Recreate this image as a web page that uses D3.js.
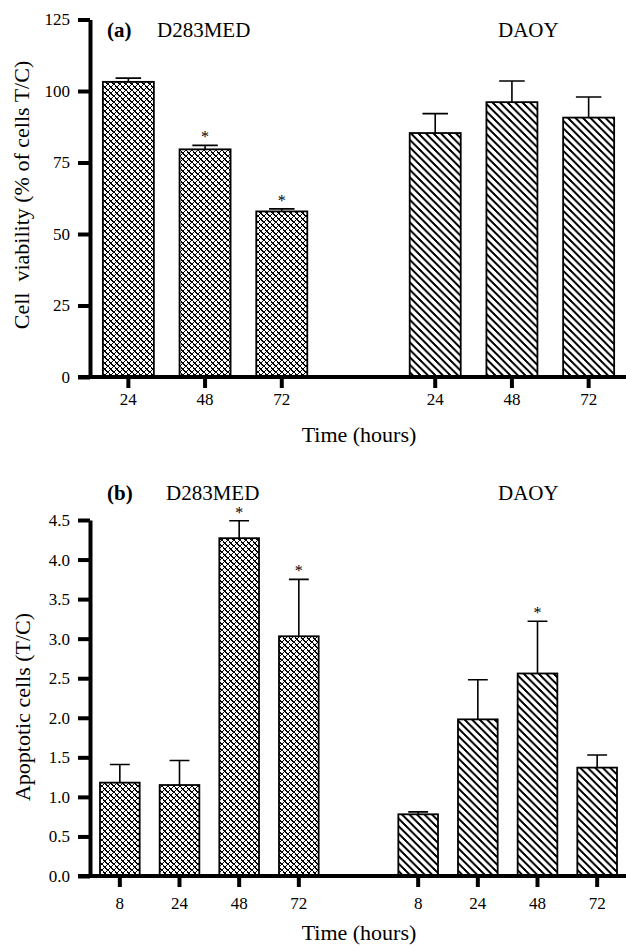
<!DOCTYPE html>
<html>
<head>
<meta charset="utf-8">
<script src="https://cdn.jsdelivr.net/npm/d3@7"></script>
<style>
  html, body { margin: 0; padding: 0; background: #fff; }
  svg { display: block; font-family: "Liberation Serif", "Times New Roman", serif; }
</style>
</head>
<body>
<svg id="fig" width="626" height="946"></svg>
<script>
// ---- Panel (a): cell viability, % of cells treated / control ----
const viabilityTimes = ["24", "48", "72"];
const viabilityD283 = [103.2, 79.6, 57.9];
const viabilityD283Err = [1.3, 1.4, 0.9];
const viabilityD283Sig = [false, true, true];
const viabilityDAOY = [85.3, 96.1, 90.7];
const viabilityDAOYErr = [6.8, 7.4, 7.2];
const viabilityDAOYSig = [false, false, false];
const viabilityTicks = [0, 25, 50, 75, 100, 125];

// ---- Panel (b): apoptotic cells, treated / control ----
const apoptosisTimes = ["8", "24", "48", "72"];
const apoptosisD283 = [1.18, 1.15, 4.27, 3.03];
const apoptosisD283Err = [0.23, 0.31, 0.22, 0.72];
const apoptosisD283Sig = [false, false, true, true];
const apoptosisDAOY = [0.78, 1.98, 2.56, 1.37];
const apoptosisDAOYErr = [0.03, 0.50, 0.66, 0.16];
const apoptosisDAOYSig = [false, false, true, false];
const apoptosisTicks = [0, 0.5, 1.0, 1.5, 2.0, 2.5, 3.0, 3.5, 4.0, 4.5];

const lineNames = ["D283MED", "DAOY"];
const serif = '"Liberation Serif", "Times New Roman", serif';

const svg = d3.select("#fig");
const defs = svg.append("defs");

// cross-hatch (diamonds) for D283MED
const cs = 6;
const cross = defs.append("pattern")
  .attr("id", "crosshatch").attr("patternUnits", "userSpaceOnUse")
  .attr("width", cs).attr("height", cs);
cross.append("rect").attr("width", cs).attr("height", cs).attr("fill", "#fff");
cross.append("path")
  .attr("d", `M0,0 L${cs},${cs} M${-1},${cs - 1} L1,${cs + 1} M${cs - 1},-1 L${cs + 1},1
              M${cs},0 L0,${cs} M-1,1 L1,-1 M${cs - 1},${cs + 1} L${cs + 1},${cs - 1}`)
  .attr("stroke", "#000").attr("stroke-width", 1.4).attr("fill", "none")
  .attr("shape-rendering", "crispEdges");

// single diagonal hatch for DAOY
const hs = 7.5;
const hatch = defs.append("pattern")
  .attr("id", "hatch").attr("patternUnits", "userSpaceOnUse")
  .attr("width", hs).attr("height", hs);
hatch.append("rect").attr("width", hs).attr("height", hs).attr("fill", "#fff");
hatch.append("path")
  .attr("d", `M0,0 L${hs},${hs} M-1,${hs - 1} L1,${hs + 1} M${hs - 1},-1 L${hs + 1},1`)
  .attr("stroke", "#000").attr("stroke-width", 1.6).attr("fill", "none")
  .attr("shape-rendering", "crispEdges");

function drawPanel(cfg) {
  const g = svg.append("g");
  const gap = "gap";
  const keys = [
    ...cfg.times.map(t => lineNames[0] + "|" + t),
    gap,
    ...cfg.times.map(t => lineNames[1] + "|" + t)
  ];
  const x = d3.scaleBand().domain(keys).range([90, 627])
    .paddingInner(0.335).paddingOuter(0.1675);
  const y = d3.scaleLinear().domain(cfg.domain).range(cfg.yRange);

  const rows = [];
  cfg.times.forEach((t, i) => rows.push({ key: lineNames[0] + "|" + t, v: cfg.a[i], e: cfg.aErr[i], s: cfg.aSig[i], fill: "url(#crosshatch)" }));
  cfg.times.forEach((t, i) => rows.push({ key: lineNames[1] + "|" + t, v: cfg.b[i], e: cfg.bErr[i], s: cfg.bSig[i], fill: "url(#hatch)" }));

  const bw = x.bandwidth();

  // error bars (upper only)
  g.selectAll(".err").data(rows).join("path")
    .attr("d", d => {
      const cx = x(d.key) + bw / 2;
      return `M${cx},${y(d.v)} V${y(d.v + d.e)} M${cx - bw / 4},${y(d.v + d.e)} H${cx + bw / 4}`;
    })
    .attr("stroke", "#000").attr("stroke-width", 1.6).attr("fill", "none");

  // bars
  g.selectAll(".bar").data(rows).join("rect")
    .attr("x", d => x(d.key))
    .attr("y", d => y(d.v))
    .attr("width", bw)
    .attr("height", d => y(0) - y(d.v))
    .attr("fill", d => d.fill)
    .attr("stroke", "#000").attr("stroke-width", 1.8);

  // significance marks
  g.selectAll(".sig").data(rows.filter(d => d.s)).join("text")
    .attr("x", d => x(d.key) + bw / 2)
    .attr("y", d => y(d.v + d.e) - 3)
    .attr("text-anchor", "middle")
    .attr("font-size", 16)
    .text("*");

  // y axis
  const ya = g.append("g").attr("transform", "translate(90,0)")
    .call(d3.axisLeft(y).tickValues(cfg.ticks).tickFormat(cfg.fmt)
      .tickSize(12).tickSizeOuter(0).tickPadding(8))
    .attr("font-family", serif).attr("font-size", 17);
  ya.select(".domain").attr("stroke-width", 4);
  ya.selectAll(".tick line").attr("stroke-width", 4);
  ya.selectAll(".tick text").attr("fill", "#000");

  // x axis
  const y0 = y(0);
  const xa = g.append("g").attr("transform", `translate(0,${y0})`)
    .call(d3.axisBottom(x).tickValues(keys.filter(k => k !== gap))
      .tickFormat(k => k.split("|")[1]).tickSize(11).tickSizeOuter(0).tickPadding(cfg.xPad))
    .attr("font-family", serif).attr("font-size", 17);
  xa.select(".domain").remove();
  xa.append("line").attr("x1", 78).attr("x2", 626).attr("stroke", "#000").attr("stroke-width", 4);
  xa.selectAll(".tick line").attr("stroke-width", 4);
  xa.selectAll(".tick text").attr("fill", "#000");

  // axis titles
  g.append("text")
    .attr("transform", `translate(${cfg.yTitle[0]},${cfg.yTitle[1]}) rotate(-90)`)
    .attr("text-anchor", "middle").attr("dominant-baseline", "central")
    .attr("font-size", 22).attr("xml:space", "preserve")
    .text(cfg.yLabel);
  g.append("text")
    .attr("x", 359).attr("y", cfg.xTitleY)
    .attr("text-anchor", "middle").attr("font-size", 22)
    .text("Time (hours)");

  // panel letter and cell-line headers
  g.append("text").attr("x", 107).attr("y", cfg.headY)
    .attr("font-size", 21).attr("font-weight", "bold").text(cfg.letter);
  g.append("text").attr("x", cfg.nameX[0]).attr("y", cfg.headY)
    .attr("font-size", 21).text(lineNames[0]);
  g.append("text").attr("x", cfg.nameX[1]).attr("y", cfg.headY)
    .attr("font-size", 21).text(lineNames[1]);
}

drawPanel({
  times: viabilityTimes,
  a: viabilityD283, aErr: viabilityD283Err, aSig: viabilityD283Sig,
  b: viabilityDAOY, bErr: viabilityDAOYErr, bSig: viabilityDAOYSig,
  domain: [0, 125], yRange: [377, 19.5], ticks: viabilityTicks, fmt: d3.format("d"),
  xPad: 5, yLabel: "Cell  viability (% of cells T/C)", yTitle: [21, 195], xTitleY: 442,
  letter: "(a)", headY: 37, nameX: [157, 498]
});

drawPanel({
  times: apoptosisTimes,
  a: apoptosisD283, aErr: apoptosisD283Err, aSig: apoptosisD283Sig,
  b: apoptosisDAOY, bErr: apoptosisDAOYErr, bSig: apoptosisDAOYSig,
  domain: [0, 4.5], yRange: [876, 520], ticks: apoptosisTicks, fmt: d3.format(".1f"),
  xPad: 10, yLabel: "Apoptotic cells (T/C)", yTitle: [22, 707], xTitleY: 940,
  letter: "(b)", headY: 500, nameX: [166, 498]
});
</script>
</body>
</html>
